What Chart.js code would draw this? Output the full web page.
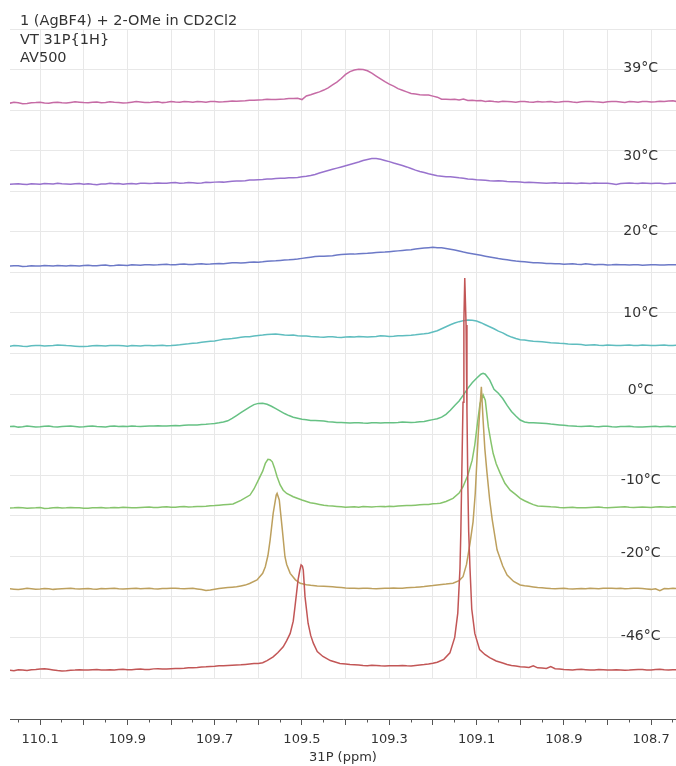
<!DOCTYPE html>
<html>
<head>
<meta charset="utf-8">
<script src="https://cdn.jsdelivr.net/npm/chart.js@4.4.1/dist/chart.umd.min.js"></script>
<style>
html,body{margin:0;padding:0;background:#fff;}
canvas{display:block;}
</style>
</head>
<body>
<canvas id="c" width="676" height="766"></canvas>
<script>
// Variable-temperature 31P{1H} spectra, stacked from coldest (bottom) to warmest (top).
const temperatures = ['-46°C', '-20°C', '-10°C', '0°C', '10°C', '20°C', '30°C', '39°C'];
const headerLines = ['1 (AgBF4) + 2-OMe in CD2Cl2', 'VT 31P{1H}', 'AV500'];
const ppmTickLabels = [110.1, 109.9, 109.7, 109.5, 109.3, 109.1, 108.9, 108.7];
const PPM_MIN = 108.643, PPM_MAX = 110.169;

// [chemical shift (ppm), intensity] for each temperature
const spec_m46 = [
[110.17,-0.10],[110.16,-0.20],[110.15,0.05],[110.14,0.00],[110.13,-0.15],[110.12,0.05],[110.11,0.10],[110.10,0.20],[110.09,0.30],[110.08,0.15],
[110.07,0.00],[110.06,-0.15],[110.05,-0.25],[110.04,-0.20],[110.03,-0.10],[110.02,-0.05],[110.01,0.05],[110.00,0.00],[109.99,-0.05],[109.98,0.05],
[109.97,0.10],[109.96,0.00],[109.95,-0.05],[109.94,0.05],[109.93,0.00],[109.92,0.10],[109.91,0.15],[109.90,0.05],[109.89,0.05],[109.88,0.15],
[109.87,0.20],[109.86,0.10],[109.85,0.10],[109.84,0.25],[109.83,0.30],[109.82,0.20],[109.81,0.20],[109.80,0.30],[109.79,0.35],[109.78,0.35],
[109.77,0.40],[109.76,0.50],[109.75,0.55],[109.74,0.60],[109.73,0.70],[109.72,0.75],[109.71,0.85],[109.70,0.90],[109.69,1.00],[109.68,1.05],
[109.67,1.10],[109.66,1.15],[109.65,1.20],[109.64,1.25],[109.63,1.35],[109.62,1.45],[109.61,1.55],[109.60,1.60],[109.59,1.75],[109.58,2.30],
[109.566,3.20],[109.555,4.30],[109.543,5.70],[109.535,7.20],[109.527,9.00],[109.520,12.00],[109.516,15.60],[109.509,22.20],[109.505,24.50],[109.502,25.90],
[109.499,25.60],[109.497,24.60],[109.493,18.00],[109.486,11.50],[109.480,8.50],[109.474,6.60],[109.465,4.50],[109.452,3.30],[109.435,2.30],[109.413,1.60],
[109.40,1.45],[109.39,1.30],[109.38,1.25],[109.37,1.20],[109.36,1.10],[109.35,1.05],[109.34,1.15],[109.33,1.10],[109.32,1.00],[109.31,0.95],
[109.30,1.05],[109.29,1.00],[109.28,1.05],[109.27,1.10],[109.26,1.00],[109.25,0.95],[109.24,1.10],[109.23,1.20],[109.22,1.30],[109.21,1.45],
[109.20,1.65],[109.19,1.90],[109.175,2.60],[109.161,4.20],[109.150,8.00],[109.143,14.00],[109.138,25.00],[109.136,34.00],[109.134,47.00],[109.131,66.00],
[109.129,86.00],[109.127,96.60],[109.124,85.00],[109.122,64.00],[109.120,46.00],[109.118,34.00],[109.115,25.00],[109.111,15.00],[109.104,9.00],[109.093,5.00],
[109.081,3.80],[109.070,3.00],[109.055,2.20],[109.04,1.70],[109.03,1.35],[109.02,1.10],[109.01,0.95],[109.00,0.80],[108.99,0.70],[108.98,0.60],
[108.97,1.00],[108.96,0.50],[108.95,0.45],[108.94,0.35],[108.93,0.80],[108.92,0.30],[108.91,0.20],[108.90,0.10],[108.89,0.05],[108.88,0.00],
[108.87,0.10],[108.86,0.15],[108.85,0.05],[108.84,-0.05],[108.83,0.00],[108.82,0.10],[108.81,0.05],[108.80,0.00],[108.79,-0.05],[108.78,0.05],
[108.77,0.00],[108.76,-0.10],[108.75,-0.05],[108.74,0.05],[108.73,0.10],[108.72,0.10],[108.71,0.00],[108.70,-0.05],[108.69,0.10],[108.68,0.15],
[108.67,0.05],[108.66,0.00],[108.65,0.05],[108.64,0.05]];

const spec_m20 = [
[110.17,0.00],[110.16,-0.10],[110.15,-0.20],[110.14,-0.05],[110.13,0.10],[110.12,0.00],[110.11,-0.10],[110.10,-0.05],[110.09,0.05],[110.08,0.00],
[110.07,-0.15],[110.06,-0.05],[110.05,0.00],[110.04,0.05],[110.03,0.10],[110.02,0.00],[110.01,-0.05],[110.00,0.00],[109.99,0.05],[109.98,-0.05],
[109.97,-0.10],[109.96,0.05],[109.95,0.00],[109.94,0.05],[109.93,0.10],[109.92,0.00],[109.91,-0.05],[109.90,0.00],[109.89,0.05],[109.88,0.10],
[109.87,0.00],[109.86,0.05],[109.85,0.10],[109.84,0.00],[109.83,-0.05],[109.82,0.05],[109.81,0.05],[109.80,0.10],[109.79,0.15],[109.78,0.05],
[109.77,0.00],[109.76,0.05],[109.75,0.10],[109.74,-0.05],[109.73,-0.20],[109.72,-0.45],[109.71,-0.30],[109.70,-0.10],[109.69,0.05],[109.68,0.20],
[109.67,0.30],[109.66,0.40],[109.65,0.50],[109.64,0.70],[109.63,0.90],[109.62,1.30],[109.603,2.17],[109.59,3.80],[109.584,5.45],[109.578,8.20],
[109.573,12.00],[109.566,18.60],[109.559,23.10],[109.557,23.50],[109.552,21.90],[109.545,14.50],[109.539,7.90],[109.535,6.00],[109.527,3.80],[109.515,2.20],
[109.504,1.36],[109.49,1.00],[109.48,0.85],[109.465,0.69],[109.45,0.60],[109.44,0.55],[109.43,0.50],[109.42,0.40],[109.41,0.30],[109.40,0.20],
[109.39,0.15],[109.38,0.10],[109.37,0.05],[109.36,0.10],[109.35,0.15],[109.34,0.05],[109.33,0.00],[109.32,0.05],[109.31,0.10],[109.30,0.15],
[109.29,0.20],[109.28,0.10],[109.27,0.15],[109.26,0.25],[109.25,0.30],[109.24,0.35],[109.23,0.45],[109.22,0.55],[109.21,0.70],[109.20,0.80],
[109.19,0.95],[109.18,1.05],[109.17,1.15],[109.154,1.36],[109.14,2.00],[109.131,2.98],[109.123,6.00],[109.115,11.20],[109.108,16.50],[109.103,23.50],
[109.096,38.30],[109.092,45.00],[109.089,49.80],[109.085,41.60],[109.081,34.50],[109.076,28.50],[109.07,22.00],[109.064,17.00],[109.053,9.60],[109.04,5.60],
[109.03,3.40],[109.015,1.80],[109.00,0.94],[108.99,0.75],[108.98,0.60],[108.97,0.45],[108.96,0.30],[108.95,0.25],[108.94,0.15],[108.93,0.05],
[108.92,0.00],[108.91,0.05],[108.90,0.10],[108.89,0.00],[108.88,-0.05],[108.87,0.00],[108.86,0.05],[108.85,0.00],[108.84,0.10],[108.83,0.05],
[108.82,0.00],[108.81,0.10],[108.80,0.15],[108.79,0.10],[108.78,0.05],[108.77,0.10],[108.76,0.00],[108.75,0.05],[108.74,0.15],[108.73,0.10],
[108.72,0.05],[108.71,-0.05],[108.70,-0.15],[108.69,0.00],[108.68,-0.45],[108.67,0.05],[108.66,0.00],[108.65,0.10],[108.64,0.05]];

const spec_m10 = [
[110.17,-0.10],[110.16,-0.05],[110.15,0.05],[110.14,0.00],[110.13,-0.15],[110.12,-0.10],[110.11,-0.05],[110.10,0.05],[110.09,-0.20],[110.08,-0.15],
[110.07,0.00],[110.06,0.05],[110.05,-0.10],[110.04,-0.05],[110.03,0.05],[110.02,0.00],[110.01,-0.05],[110.00,-0.15],[109.99,-0.15],[109.98,-0.05],
[109.97,0.00],[109.96,0.05],[109.95,-0.10],[109.94,-0.05],[109.93,0.05],[109.92,0.00],[109.91,0.10],[109.90,0.05],[109.89,-0.05],[109.88,0.00],
[109.87,0.05],[109.86,0.10],[109.85,0.15],[109.84,0.05],[109.83,0.05],[109.82,0.15],[109.81,0.20],[109.80,0.10],[109.79,0.10],[109.78,0.20],
[109.77,0.25],[109.76,0.15],[109.75,0.20],[109.74,0.30],[109.73,0.30],[109.72,0.35],[109.71,0.45],[109.70,0.50],[109.69,0.60],[109.68,0.70],
[109.67,0.80],[109.658,0.90],[109.64,1.80],[109.619,3.10],[109.61,4.60],[109.60,6.80],[109.59,9.00],[109.584,10.90],[109.578,11.90],[109.573,11.80],
[109.568,11.30],[109.563,9.80],[109.557,7.60],[109.55,5.60],[109.543,4.30],[109.535,3.50],[109.52,2.70],[109.50,1.90],[109.481,1.20],[109.47,1.00],
[109.46,0.80],[109.45,0.60],[109.44,0.45],[109.43,0.40],[109.42,0.30],[109.41,0.20],[109.40,0.10],[109.39,0.15],[109.38,0.20],[109.37,0.10],
[109.36,0.25],[109.35,0.20],[109.34,0.15],[109.33,0.25],[109.32,0.30],[109.31,0.25],[109.30,0.35],[109.29,0.30],[109.28,0.40],[109.27,0.45],
[109.26,0.50],[109.25,0.50],[109.24,0.60],[109.23,0.70],[109.22,0.75],[109.21,0.80],[109.20,0.95],[109.19,1.00],[109.183,1.06],[109.17,1.50],
[109.154,2.29],[109.14,3.60],[109.131,5.15],[109.12,8.00],[109.11,11.70],[109.104,15.50],[109.099,19.90],[109.092,25.70],[109.085,27.80],[109.08,26.50],
[109.073,19.90],[109.067,16.20],[109.062,13.40],[109.055,10.80],[109.046,8.50],[109.035,6.00],[109.023,4.30],[109.01,3.20],[109.00,2.30],[108.99,1.70],
[108.98,1.20],[108.97,0.75],[108.96,0.40],[108.95,0.35],[108.94,0.30],[108.93,0.20],[108.92,0.15],[108.91,0.05],[108.90,0.00],[108.89,0.05],
[108.88,0.10],[108.87,0.00],[108.86,-0.05],[108.85,0.00],[108.84,0.05],[108.83,0.10],[108.82,0.15],[108.81,0.05],[108.80,0.00],[108.79,0.05],
[108.78,0.10],[108.77,0.15],[108.76,0.20],[108.75,0.10],[108.74,0.05],[108.73,0.10],[108.72,0.15],[108.71,0.10],[108.70,0.05],[108.69,0.15],
[108.68,0.20],[108.67,0.15],[108.66,0.10],[108.65,0.20],[108.64,0.15]];

const spec_0 = [
[110.17,0.00],[110.16,0.05],[110.15,-0.15],[110.14,-0.05],[110.13,0.10],[110.12,0.00],[110.11,-0.10],[110.10,-0.05],[110.09,0.05],[110.08,0.10],
[110.07,-0.05],[110.06,-0.10],[110.05,0.00],[110.04,0.05],[110.03,0.10],[110.02,0.00],[110.01,-0.10],[110.00,-0.05],[109.99,0.05],[109.98,0.10],
[109.97,0.00],[109.96,-0.05],[109.95,-0.10],[109.94,0.05],[109.93,0.10],[109.92,0.00],[109.91,0.05],[109.90,0.00],[109.89,0.15],[109.88,0.05],
[109.87,0.00],[109.86,0.05],[109.85,0.10],[109.84,0.15],[109.83,0.20],[109.82,0.10],[109.81,0.10],[109.80,0.20],[109.79,0.25],[109.78,0.20],
[109.77,0.30],[109.76,0.35],[109.75,0.40],[109.74,0.40],[109.73,0.50],[109.72,0.55],[109.71,0.65],[109.70,0.75],[109.69,0.90],[109.68,1.10],
[109.67,1.40],[109.66,2.00],[109.65,2.70],[109.64,3.40],[109.63,4.10],[109.62,4.80],[109.61,5.40],[109.60,5.70],[109.59,5.75],[109.58,5.50],
[109.57,5.00],[109.56,4.40],[109.55,3.80],[109.54,3.20],[109.53,2.70],[109.52,2.30],[109.51,2.05],[109.50,1.80],[109.49,1.65],[109.48,1.50],
[109.47,1.50],[109.46,1.45],[109.45,1.35],[109.44,1.20],[109.43,1.10],[109.42,1.00],[109.41,1.00],[109.40,0.95],[109.39,0.85],[109.38,0.90],
[109.37,0.95],[109.36,0.85],[109.35,0.80],[109.34,0.95],[109.33,0.90],[109.32,0.85],[109.31,0.95],[109.30,0.90],[109.29,0.95],[109.28,1.00],
[109.27,1.10],[109.26,1.05],[109.25,1.00],[109.24,1.05],[109.23,1.15],[109.22,1.25],[109.21,1.50],[109.20,1.70],[109.19,1.90],[109.18,2.30],
[109.17,3.00],[109.16,4.00],[109.15,5.20],[109.14,6.30],[109.13,7.80],[109.12,9.40],[109.11,10.80],[109.10,11.90],[109.09,12.90],[109.085,13.10],
[109.08,12.90],[109.07,11.50],[109.06,9.20],[109.05,8.20],[109.04,6.90],[109.03,5.20],[109.02,3.70],[109.01,2.60],[109.00,1.60],[108.99,1.10],
[108.98,0.95],[108.97,0.90],[108.96,0.85],[108.95,0.80],[108.94,0.75],[108.93,0.60],[108.92,0.50],[108.91,0.40],[108.90,0.30],[108.89,0.20],
[108.88,0.15],[108.87,0.05],[108.86,0.00],[108.85,0.05],[108.84,0.10],[108.83,0.00],[108.82,-0.05],[108.81,0.05],[108.80,0.05],[108.79,-0.05],
[108.78,-0.10],[108.77,0.00],[108.76,0.00],[108.75,0.05],[108.74,-0.05],[108.73,-0.10],[108.72,-0.15],[108.71,-0.05],[108.70,0.00],[108.69,0.05],
[108.68,-0.05],[108.67,0.00],[108.66,0.05],[108.65,-0.05],[108.64,0.00]];

const spec_10 = [
[110.17,-0.20],[110.16,-0.05],[110.15,-0.10],[110.14,-0.20],[110.13,-0.25],[110.12,-0.10],[110.11,0.00],[110.10,-0.05],[110.09,-0.15],[110.08,-0.10],
[110.07,-0.05],[110.06,0.10],[110.05,0.05],[110.04,-0.05],[110.03,-0.10],[110.02,-0.20],[110.01,-0.30],[110.00,-0.25],[109.99,-0.20],[109.98,-0.10],
[109.97,-0.05],[109.96,-0.10],[109.95,-0.15],[109.94,-0.05],[109.93,0.00],[109.92,-0.05],[109.91,-0.10],[109.90,-0.20],[109.89,-0.05],[109.88,-0.10],
[109.87,-0.15],[109.86,0.00],[109.85,-0.05],[109.84,-0.10],[109.83,0.00],[109.82,0.05],[109.81,-0.10],[109.80,-0.05],[109.79,0.05],[109.78,0.15],
[109.77,0.30],[109.76,0.40],[109.75,0.55],[109.74,0.60],[109.73,0.75],[109.72,0.90],[109.71,1.00],[109.70,1.10],[109.69,1.30],[109.68,1.50],
[109.67,1.60],[109.66,1.70],[109.65,1.85],[109.64,2.00],[109.63,2.10],[109.62,2.15],[109.61,2.30],[109.60,2.45],[109.59,2.55],[109.58,2.70],
[109.57,2.75],[109.56,2.80],[109.55,2.70],[109.54,2.55],[109.53,2.50],[109.52,2.55],[109.51,2.40],[109.50,2.30],[109.49,2.30],[109.48,2.20],
[109.47,2.15],[109.46,2.05],[109.45,2.00],[109.44,2.15],[109.43,2.10],[109.42,2.00],[109.41,1.95],[109.40,2.05],[109.39,2.10],[109.38,2.05],
[109.37,2.20],[109.36,2.15],[109.35,2.05],[109.34,2.15],[109.33,2.20],[109.32,2.35],[109.31,2.30],[109.30,2.20],[109.29,2.25],[109.28,2.35],
[109.27,2.40],[109.26,2.45],[109.25,2.50],[109.24,2.60],[109.23,2.75],[109.22,2.85],[109.21,3.00],[109.20,3.30],[109.19,3.60],[109.18,4.10],
[109.17,4.60],[109.16,5.10],[109.15,5.50],[109.14,5.85],[109.13,6.10],[109.12,6.25],[109.11,6.20],[109.10,6.00],[109.09,5.60],[109.08,5.10],
[109.07,4.60],[109.06,4.10],[109.05,3.50],[109.04,3.10],[109.03,2.50],[109.02,2.05],[109.01,1.70],[109.00,1.40],[108.99,1.30],[108.98,1.15],
[108.97,1.00],[108.96,0.95],[108.95,0.90],[108.94,0.80],[108.93,0.65],[108.92,0.60],[108.91,0.50],[108.90,0.45],[108.89,0.35],[108.88,0.30],
[108.87,0.25],[108.86,0.20],[108.85,0.05],[108.84,0.10],[108.83,0.15],[108.82,0.05],[108.81,0.00],[108.80,0.10],[108.79,0.05],[108.78,-0.05],
[108.77,0.00],[108.76,0.05],[108.75,0.10],[108.74,0.00],[108.73,-0.05],[108.72,0.10],[108.71,0.05],[108.70,-0.05],[108.69,0.00],[108.68,0.05],
[108.67,0.10],[108.66,0.00],[108.65,-0.05],[108.64,0.05]];

const spec_20 = [
[110.17,-0.45],[110.16,-0.35],[110.15,-0.35],[110.14,-0.55],[110.13,-0.50],[110.12,-0.35],[110.11,-0.40],[110.10,-0.45],[110.09,-0.30],[110.08,-0.35],
[110.07,-0.45],[110.06,-0.30],[110.05,-0.35],[110.04,-0.45],[110.03,-0.30],[110.02,-0.35],[110.01,-0.40],[110.00,-0.30],[109.99,-0.25],[109.98,-0.35],
[109.97,-0.35],[109.96,-0.25],[109.95,-0.20],[109.94,-0.35],[109.93,-0.30],[109.92,-0.20],[109.91,-0.25],[109.90,-0.30],[109.89,-0.15],[109.88,-0.20],
[109.87,-0.25],[109.86,-0.10],[109.85,-0.10],[109.84,-0.20],[109.83,-0.15],[109.82,-0.05],[109.81,0.00],[109.80,-0.15],[109.79,-0.10],[109.78,0.00],
[109.77,0.05],[109.76,-0.05],[109.75,-0.05],[109.74,0.05],[109.73,0.10],[109.72,0.00],[109.71,0.05],[109.70,0.15],[109.69,0.20],[109.68,0.15],
[109.67,0.25],[109.66,0.35],[109.65,0.35],[109.64,0.30],[109.63,0.40],[109.62,0.50],[109.61,0.55],[109.60,0.50],[109.59,0.60],[109.58,0.75],
[109.57,0.80],[109.56,0.85],[109.55,0.95],[109.54,1.05],[109.53,1.10],[109.52,1.20],[109.51,1.30],[109.50,1.45],[109.49,1.60],[109.48,1.75],
[109.47,1.90],[109.46,1.95],[109.45,2.00],[109.44,2.05],[109.43,2.10],[109.42,2.30],[109.41,2.40],[109.40,2.45],[109.39,2.50],[109.38,2.50],
[109.37,2.60],[109.36,2.65],[109.35,2.70],[109.34,2.80],[109.33,2.90],[109.32,2.95],[109.31,3.00],[109.30,3.10],[109.29,3.20],[109.28,3.30],
[109.27,3.40],[109.26,3.50],[109.25,3.60],[109.24,3.75],[109.23,3.90],[109.22,4.00],[109.21,4.10],[109.20,4.20],[109.19,4.10],[109.18,4.05],
[109.17,3.90],[109.16,3.70],[109.15,3.50],[109.14,3.25],[109.13,3.00],[109.12,2.80],[109.11,2.60],[109.10,2.40],[109.09,2.20],[109.08,2.00],
[109.07,1.80],[109.06,1.60],[109.05,1.40],[109.04,1.25],[109.03,1.10],[109.02,0.95],[109.01,0.80],[109.00,0.70],[108.99,0.60],[108.98,0.50],
[108.97,0.40],[108.96,0.35],[108.95,0.30],[108.94,0.20],[108.93,0.20],[108.92,0.15],[108.91,0.10],[108.90,0.00],[108.89,0.05],[108.88,0.10],
[108.87,0.00],[108.86,-0.05],[108.85,0.10],[108.84,0.00],[108.83,-0.10],[108.82,-0.05],[108.81,-0.05],[108.80,-0.20],[108.79,-0.15],[108.78,-0.05],
[108.77,-0.10],[108.76,-0.15],[108.75,-0.20],[108.74,-0.10],[108.73,-0.15],[108.72,-0.25],[108.71,-0.20],[108.70,-0.15],[108.69,-0.10],[108.68,-0.20],
[108.67,-0.20],[108.66,-0.15],[108.65,-0.10],[108.64,-0.15]];

const spec_30 = [
[110.17,-0.30],[110.16,-0.20],[110.15,-0.15],[110.14,-0.25],[110.13,-0.35],[110.12,-0.15],[110.11,-0.20],[110.10,-0.30],[110.09,-0.10],[110.08,-0.15],
[110.07,-0.20],[110.06,-0.05],[110.05,-0.15],[110.04,-0.20],[110.03,-0.30],[110.02,-0.15],[110.01,-0.10],[110.00,-0.25],[109.99,-0.15],[109.98,-0.30],
[109.97,-0.40],[109.96,-0.20],[109.95,-0.20],[109.94,-0.05],[109.93,-0.15],[109.92,-0.10],[109.91,-0.25],[109.90,-0.15],[109.89,-0.10],[109.88,-0.20],
[109.87,-0.05],[109.86,0.00],[109.85,-0.10],[109.84,-0.05],[109.83,0.05],[109.82,-0.05],[109.81,0.00],[109.80,0.10],[109.79,0.15],[109.78,0.00],
[109.77,0.05],[109.76,0.15],[109.75,0.10],[109.74,0.00],[109.73,0.05],[109.72,0.20],[109.71,0.15],[109.70,0.25],[109.69,0.30],[109.68,0.25],
[109.67,0.35],[109.66,0.45],[109.65,0.50],[109.64,0.50],[109.63,0.60],[109.62,0.75],[109.61,0.80],[109.60,0.85],[109.59,0.90],[109.58,1.00],
[109.57,1.05],[109.56,1.15],[109.55,1.20],[109.54,1.20],[109.53,1.30],[109.52,1.35],[109.51,1.40],[109.50,1.55],[109.49,1.70],[109.48,1.90],
[109.47,2.15],[109.46,2.50],[109.45,2.80],[109.44,3.10],[109.43,3.40],[109.42,3.70],[109.41,4.00],[109.40,4.30],[109.39,4.60],[109.38,4.90],
[109.37,5.20],[109.36,5.60],[109.35,5.85],[109.34,6.05],[109.33,6.05],[109.32,5.90],[109.31,5.60],[109.30,5.30],[109.29,4.95],[109.28,4.65],
[109.27,4.35],[109.26,4.00],[109.25,3.60],[109.24,3.20],[109.23,2.85],[109.22,2.60],[109.21,2.30],[109.20,2.05],[109.19,1.80],[109.18,1.70],
[109.17,1.55],[109.16,1.60],[109.15,1.45],[109.14,1.30],[109.13,1.20],[109.12,1.00],[109.11,0.95],[109.10,0.85],[109.09,0.80],[109.08,0.70],
[109.07,0.60],[109.06,0.55],[109.05,0.60],[109.04,0.50],[109.03,0.40],[109.02,0.35],[109.01,0.35],[109.00,0.30],[108.99,0.15],[108.98,0.20],
[108.97,0.15],[108.96,0.10],[108.95,0.05],[108.94,0.00],[108.93,0.05],[108.92,0.10],[108.91,0.00],[108.90,-0.05],[108.89,0.05],[108.88,0.00],
[108.87,-0.10],[108.86,0.05],[108.85,0.00],[108.84,-0.10],[108.83,0.05],[108.82,0.00],[108.81,-0.05],[108.80,-0.05],[108.79,-0.15],[108.78,-0.35],
[108.77,-0.10],[108.76,0.00],[108.75,0.05],[108.74,-0.05],[108.73,-0.10],[108.72,0.05],[108.71,0.00],[108.70,-0.10],[108.69,-0.05],[108.68,0.00],
[108.67,-0.15],[108.66,-0.10],[108.65,0.00],[108.64,-0.05]];

const spec_39 = [
[110.17,-0.30],[110.16,-0.05],[110.15,-0.20],[110.14,-0.40],[110.13,-0.35],[110.12,-0.20],[110.11,-0.15],[110.10,-0.05],[110.09,-0.25],[110.08,-0.30],
[110.07,-0.10],[110.06,-0.05],[110.05,-0.20],[110.04,-0.25],[110.03,-0.10],[110.02,0.05],[110.01,-0.05],[110.00,-0.15],[109.99,-0.20],[109.98,-0.05],
[109.97,0.00],[109.96,-0.20],[109.95,-0.10],[109.94,0.05],[109.93,-0.05],[109.92,-0.10],[109.91,-0.25],[109.90,-0.20],[109.89,-0.05],[109.88,0.10],
[109.87,0.00],[109.86,-0.10],[109.85,-0.15],[109.84,0.00],[109.83,0.05],[109.82,-0.15],[109.81,-0.05],[109.80,0.10],[109.79,0.00],[109.78,-0.05],
[109.77,0.10],[109.76,0.05],[109.75,-0.05],[109.74,0.15],[109.73,0.05],[109.72,-0.05],[109.71,0.10],[109.70,0.10],[109.69,0.00],[109.68,0.05],
[109.67,0.15],[109.66,0.25],[109.65,0.20],[109.64,0.25],[109.63,0.30],[109.62,0.45],[109.61,0.45],[109.60,0.50],[109.59,0.55],[109.58,0.70],
[109.57,0.65],[109.56,0.65],[109.55,0.70],[109.54,0.75],[109.53,0.85],[109.52,0.85],[109.51,0.90],[109.50,0.60],[109.49,1.50],[109.48,1.80],
[109.47,2.15],[109.46,2.50],[109.45,2.95],[109.44,3.50],[109.43,4.20],[109.42,4.90],[109.41,5.80],[109.40,6.80],[109.39,7.50],[109.38,7.90],
[109.37,8.10],[109.36,8.00],[109.35,7.70],[109.34,7.10],[109.33,6.40],[109.32,5.70],[109.31,5.00],[109.30,4.40],[109.29,3.90],[109.28,3.30],
[109.27,2.90],[109.26,2.50],[109.25,2.10],[109.24,1.95],[109.23,1.80],[109.22,1.75],[109.21,1.70],[109.20,1.45],[109.19,1.20],[109.18,0.70],
[109.17,0.70],[109.16,0.60],[109.15,0.65],[109.14,0.50],[109.13,0.75],[109.12,0.40],[109.11,0.45],[109.10,0.30],[109.09,0.35],[109.08,0.15],
[109.07,0.25],[109.06,0.10],[109.05,0.00],[109.04,0.20],[109.03,0.15],[109.02,0.05],[109.01,-0.05],[109.00,0.10],[108.99,0.15],[108.98,0.00],
[108.97,-0.05],[108.96,0.10],[108.95,0.00],[108.94,0.05],[108.93,0.15],[108.92,-0.05],[108.91,0.00],[108.90,0.10],[108.89,0.15],[108.88,0.00],
[108.87,-0.10],[108.86,0.05],[108.85,0.10],[108.84,0.15],[108.83,0.05],[108.82,0.00],[108.81,-0.10],[108.80,0.05],[108.79,0.15],[108.78,0.10],
[108.77,0.00],[108.76,-0.10],[108.75,0.10],[108.74,0.05],[108.73,-0.05],[108.72,0.15],[108.71,0.10],[108.70,0.00],[108.69,0.05],[108.68,0.20],
[108.67,0.10],[108.66,0.25],[108.65,0.30],[108.64,0.10]];

const spectra = [spec_m46, spec_m20, spec_m10, spec_0, spec_10, spec_20, spec_30, spec_39];

// layout of the stack: vertical offset of each trace and height of its temperature tag
const stackOffsets = [2, 22, 42, 62, 82, 102, 122, 142];
const labelRise = [8.2, 8.75, 6.8, 9.0, 7.9, 8.2, 6.5, 8.3];
const labelPpm = 108.724;
const traceColors = ['#c25656', '#bda05e', '#86c46c', '#66c184', '#5fbdbf', '#6c79c7', '#9872cd', '#c66ba5'];

const FONT = '"DejaVu Sans", Verdana, sans-serif';
const GRID = '#e8e8e8';

const datasets = spectra.map((s, i) => ({
  label: temperatures[i],
  data: s.map(([p, v]) => ({ x: p, y: v + stackOffsets[i] })),
  borderColor: traceColors[i],
  borderWidth: 1.5,
  pointRadius: 0,
  fill: false,
  tension: 0,
  xAxisID: 'x',
  yAxisID: 'y'
}));

const isTenth = v => Math.round(v * 20) % 2 === 0;

// keep the plot area flush with the canvas edges
const noSidePadding = s => { s.paddingLeft = 0; s.paddingRight = 0; };

const annotate = {
  id: 'annotate',
  afterDatasetsDraw(chart) {
    const { ctx, scales: { x, y } } = chart;
    ctx.save();
    ctx.fillStyle = '#333';
    ctx.font = '14px ' + FONT;
    ctx.textAlign = 'center';
    ctx.textBaseline = 'middle';
    temperatures.forEach((t, i) => {
      ctx.fillText(t, x.getPixelForValue(labelPpm), y.getPixelForValue(stackOffsets[i] + labelRise[i]));
    });
    ctx.font = '14.5px ' + FONT;
    ctx.textAlign = 'left';
    ctx.textBaseline = 'alphabetic';
    headerLines.forEach((s, i) => ctx.fillText(s, 20, 25 + i * 18.5));
    ctx.restore();
  }
};

new Chart(document.getElementById('c'), {
  type: 'line',
  data: { datasets },
  options: {
    responsive: false,
    animation: false,
    events: [],
    layout: { padding: { left: 10, right: 0, top: 29, bottom: 0 } },
    plugins: { legend: { display: false }, tooltip: { enabled: false }, title: { display: false } },
    scales: {
      x: {
        type: 'linear', position: 'bottom', reverse: true, min: PPM_MIN, max: PPM_MAX, weight: 0,
        ticks: { display: false, stepSize: 0.1, includeBounds: false, autoSkip: false },
        grid: { color: GRID, lineWidth: 1, drawTicks: false },
        border: { display: false },
        afterFit: s => { s.height = 41; noSidePadding(s); }
      },
      xt: {
        type: 'linear', axis: 'x', position: 'bottom', reverse: true, min: PPM_MIN, max: PPM_MAX, weight: 1,
        ticks: {
          stepSize: 0.05, includeBounds: false, autoSkip: false, maxRotation: 0, padding: 7.2,
          color: '#333', font: { family: FONT, size: 13 },
          callback: v => ppmTickLabels.some(t => Math.abs(t - v) < 1e-6) ? v.toFixed(1) : ''
        },
        grid: {
          drawOnChartArea: false, tickLength: 6, tickColor: '#555', tickWidth: 1,
          tickBorderDash: c => (c.tick && isTenth(c.tick.value)) ? [] : [2.5, 20]
        },
        border: { display: true, color: '#555', width: 1 },
        title: { display: true, text: '31P (ppm)', color: '#333', font: { family: FONT, size: 13 }, padding: { top: 2.2, bottom: 0.4 } },
        afterFit: s => { s.height = 47; noSidePadding(s); }
      },
      y: {
        min: 0, max: 160,
        ticks: { display: false, stepSize: 10 },
        grid: { color: GRID, lineWidth: 1, drawTicks: false },
        border: { display: false },
        afterFit: s => { s.width = 0; }
      }
    }
  },
  plugins: [annotate]
});
</script>
</body>
</html>
